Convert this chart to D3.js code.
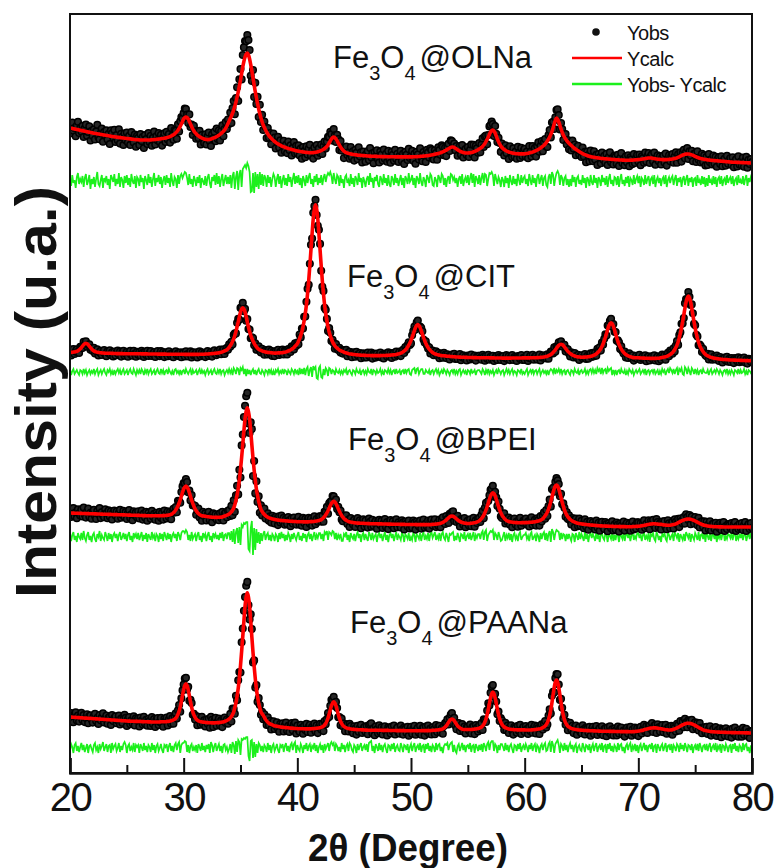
<!DOCTYPE html>
<html>
<head>
<meta charset="utf-8">
<script src="https://cdn.jsdelivr.net/npm/d3@7/dist/d3.min.js"></script>
<style>
  html, body { margin: 0; padding: 0; background: #fff; }
  svg { display: block; }
</style>
</head>
<body>
<div id="chart"></div>
<script>
// XRD patterns with Rietveld refinement: observed points, calculated profile and difference curve.
// Scan: 20–80° 2θ, 0.1° step (601 points). Intensities in a.u. relative to each sample's baseline.
const scanStart = 20;
const scanStep = 0.1;

const sampleNames = ["OLNa", "CIT", "BPEI", "PAANa"];
// vertical stacking offset of each pattern (a.u.)
const offsets = [592, 401, 236, 25];
const xTickValues = [20, 30, 40, 50, 60, 70, 80];
const xMinorValues = [25, 35, 45, 55, 65, 75];
const legendLabels = ["Yobs", "Ycalc", "Yobs- Ycalc"];

// one row = 2° of scan
const calcOLNa = [
  53, 52.8, 52.5, 52.3, 52, 51.8, 51.5, 51.3, 51, 50.8, 50.5, 50.3, 50, 49.8, 49.5, 49.3, 49, 48.8, 48.5, 48.3,
  48, 47.8, 47.6, 47.4, 47.2, 47, 46.8, 46.6, 46.4, 46.2, 46, 45.8, 45.6, 45.4, 45.2, 45, 44.8, 44.6, 44.4, 44.2,
  44, 43.9, 43.7, 43.6, 43.4, 43.3, 43.1, 43, 42.8, 42.7, 42.5, 42.4, 42.2, 42.1, 41.9, 41.8, 41.6, 41.5, 41.3, 41.2,
  41.2, 41.1, 41, 41, 41, 41, 41, 41, 41, 41, 41, 41.1, 41.2, 41.3, 41.4, 41.5, 41.6, 41.8, 41.9, 42,
  42.2, 42.4, 42.6, 42.8, 43, 43.3, 43.6, 44, 44.4, 44.9, 45.5, 46.2, 47, 48.1, 49.3, 50.8, 52.5, 54.7, 57, 59.6,
  62, 63.4, 64, 63.4, 62, 59.6, 57, 54.4, 52, 50.1, 48.5, 47.2, 46, 45.1, 44.3, 43.6, 43, 42.5, 42, 41.7,
  41.5, 41.4, 41.5, 41.7, 42, 42.4, 42.8, 43.3, 43.8, 44.4, 45, 45.8, 46.6, 47.6, 48.6, 49.7, 51, 52.9, 55, 57.4,
  60, 62.4, 65, 67.9, 71, 74.8, 79, 83.8, 89, 94.8, 101, 107.6, 114, 119.6, 124, 126.8, 128, 126, 122, 116.3,
  110, 103, 96, 89.3, 83, 77.3, 72, 67.3, 63, 59.3, 56, 53.4, 51, 48.9, 47, 45.4, 44, 42.7, 41.5, 40.5,
  39.5, 38.6, 37.8, 37.1, 36.4, 35.8, 35.2, 34.7, 34.2, 33.7, 33.3, 32.9, 32.5, 32.1, 31.8, 31.5, 31.2, 30.9, 30.6, 30.3,
  30, 29.8, 29.6, 29.4, 29.2, 29, 28.9, 28.7, 28.6, 28.5, 28.4, 28.3, 28.3, 28.3, 28.4, 28.5, 28.7, 28.9, 29.2, 29.6,
  30, 30.5, 31, 31.7, 32.5, 33.4, 34.5, 36.1, 38, 40.1, 42, 43.4, 44, 43.4, 42, 40.1, 38, 35.9, 34, 32.4,
  31, 29.9, 29, 28.4, 28, 27.6, 27.3, 27, 26.8, 26.6, 26.4, 26.2, 26.1, 25.9, 25.8, 25.7, 25.6, 25.5, 25.4, 25.3,
  25.2, 25.1, 25, 24.9, 24.9, 24.8, 24.8, 24.7, 24.7, 24.6, 24.6, 24.5, 24.5, 24.4, 24.4, 24.4, 24.4, 24.3, 24.3, 24.3,
  24.3, 24.2, 24.2, 24.2, 24.2, 24.2, 24.2, 24.1, 24.1, 24.1, 24.1, 24.1, 24.1, 24.1, 24.1, 24.1, 24.1, 24.1, 24.1, 24.1,
  24.1, 24.1, 24.2, 24.2, 24.3, 24.3, 24.4, 24.5, 24.6, 24.7, 24.8, 24.9, 25, 25.1, 25.3, 25.4, 25.6, 25.8, 26, 26.2,
  26.5, 26.7, 27, 27.3, 27.6, 27.9, 28.3, 28.7, 29.2, 29.7, 30.3, 30.9, 31.6, 32.3, 33, 33.6, 34, 34, 33.5, 32.8,
  32, 31.2, 30.5, 29.9, 29.3, 28.9, 28.5, 28.2, 28, 28, 28, 28.1, 28.3, 28.5, 28.8, 29.2, 29.6, 30.1, 30.6, 31.3,
  32, 32.7, 33.5, 34.6, 36, 37.6, 39.5, 41.7, 44, 46.6, 49, 50.5, 51, 49.9, 48, 45.1, 42, 39.3, 37, 35.1,
  33.5, 32.4, 31.5, 30.7, 30, 29.5, 29, 28.6, 28.3, 28, 27.8, 27.6, 27.4, 27.3, 27.2, 27.1, 27.1, 27.1, 27.1, 27.1,
  27.2, 27.3, 27.5, 27.7, 28, 28.3, 28.6, 29, 29.4, 29.9, 30.4, 31, 31.6, 32.3, 33, 33.9, 34.8, 35.8, 37, 38.4,
  40, 41.9, 44, 46.6, 49.5, 53.2, 57, 60.6, 63, 61.6, 59, 55.6, 52, 48.9, 46, 43.9, 42, 40.4, 39, 37.7,
  36.5, 35.5, 34.5, 33.5, 32.5, 31.7, 31, 30.2, 29.5, 28.7, 28, 27.4, 26.8, 26.3, 25.8, 25.4, 25, 24.7, 24.4, 24.1,
  23.9, 23.7, 23.5, 23.3, 23.1, 23, 22.8, 22.7, 22.5, 22.4, 22.3, 22.2, 22.1, 22, 21.9, 21.8, 21.7, 21.6, 21.5, 21.4,
  21.3, 21.2, 21.2, 21.1, 21, 21, 20.9, 20.9, 20.8, 20.8, 20.8, 20.8, 20.8, 20.8, 20.9, 20.9, 21, 21.1, 21.2, 21.3,
  21.4, 21.5, 21.7, 21.8, 22, 22.2, 22.4, 22.6, 22.8, 23, 23, 23, 22.8, 22.6, 22.4, 22.2, 22, 21.8, 21.7, 21.6,
  21.5, 21.4, 21.4, 21.4, 21.4, 21.4, 21.5, 21.6, 21.7, 21.8, 22, 22.2, 22.5, 22.8, 23.2, 23.7, 24.2, 24.8, 25.4, 25.9,
  26.3, 26.7, 26.9, 27, 27, 26.8, 26.6, 26.2, 25.7, 25.2, 24.6, 24.1, 23.6, 23.2, 22.8, 22.5, 22.2, 21.9, 21.7, 21.5,
  21.3, 21.1, 21, 20.8, 20.7, 20.6, 20.5, 20.4, 20.3, 20.2, 20.1, 20, 19.9, 19.8, 19.7, 19.6, 19.5, 19.4, 19.3, 19.2,
  19.1, 19, 18.9, 18.8, 18.8, 18.7, 18.7, 18.6, 18.6, 18.5, 18.5, 18.4, 18.4, 18.3, 18.3, 18.2, 18.2, 18.1, 18.1, 18,
  18
];
const diffOLNa = [
  3, -5, 6, -2, 1, -7, 4, 8, -3, 2, -1, 5, -6, 3, 7, -4, 0, 6, -8, 2,
  -3, 4, -6, 2, 9, -3, -5, 1, 6, -7, 3, 0, 5, -4, 2, -8, 6, 3, -1, 7,
  -5, 2, -3, 8, -6, 4, 1, -7, 5, -2, 6, -4, 3, -6, 7, 0, -3, 5, -7, 4,
  2, -5, 6, -1, 3, -8, 5, 1, -4, 7, -2, 4, -6, 2, 8, -5, 3, -1, 6, -3,
  4, -7, 1, 5, -4, 6, -2, 3, -6, 8, 0, -5, 4, 2, -7, 6, -3, 5, 7, 3,
  6, 9, 8, 3, -4, 7, -3, 2, -6, 5, 1, -5, 4, -2, 6, -7, 3, 0, -4, 5,
  -5, 3, 7, -2, -7, 4, 0, 6, -4, 8, -3, 5, -6, 2, 7, -5, 1, 6, -3, 4,
  -3, 6, -7, 5, 9, -8, 4, 10, -9, 7, 11, -6, 12, 14, 16, 13, 18, 15, 9, -11,
  -10, 8, -12, 9, -6, 7, -8, 9, -4, 7, -5, 6, 3, -6, 6, -2, 4, -6, 2, 7,
  4, -6, 2, 7, -3, 5, -7, 1, 6, -4, 3, -5, 7, -1, 4, -6, 2, 8, -3, 5,
  -2, 6, -4, 3, -7, 5, 1, -5, 6, -2, 4, 8, -3, 2, -6, 5, -1, 7, -4, 3,
  -2, 6, -4, 3, 7, -1, 5, 8, 6, 9, 5, -3, 8, 2, -3, 6, 4, -5, 6, -2,
  2, -7, 4, 6, -2, 1, -5, 7, -3, 3, -6, 5, 2, -4, 8, -1, 3, -7, 4, 0,
  -6, 2, 5, -4, 8, -1, 3, -7, 4, 0, 6, -3, -6, 5, 2, -4, 7, -2, 3, -5,
  6, -3, -6, 5, 2, -4, 7, -2, 3, -5, 1, 6, -4, 3, -7, 5, 2, -3, 8, -1,
  1, 6, -4, 3, -7, 5, 2, -3, 8, -1, -5, 4, 1, -6, 6, 3, -2, 7, 5, -4,
  -5, 4, 1, -6, 6, 3, -2, 7, 5, -4, 3, -6, 2, 5, -3, 7, 6, 1, 4, -2,
  3, -6, 2, 5, -3, 7, -5, 1, 4, -2, 6, -4, 3, 8, -2, 7, -6, 5, 2, -3,
  6, -4, 3, 8, -2, 7, 6, -5, 2, 8, 7, 9, 6, -5, 7, 2, -3, 4, 1, -6,
  4, 1, -6, 5, -2, 3, -7, 6, 0, -4, 5, -3, 2, -5, 7, 1, -4, 6, -2, 3,
  5, -3, 2, -5, 7, 1, -4, 6, -2, 3, -6, 4, 7, -3, 2, 6, -5, 3, 5, -4,
  -6, 4, 7, -3, 9, 6, -5, 3, 8, 10, 7, -4, 6, 3, -5, 3, 5, -4, 2, -6,
  2, -5, 6, -1, 4, -6, 3, 5, -3, 1, -4, 6, -2, 3, -7, 4, 1, -5, 6, -1,
  -4, 6, -2, 3, -7, 4, 1, -5, 6, -1, 3, -4, 5, -6, 2, 7, -3, 1, -5, 4,
  3, -4, 5, -6, 2, 7, -3, 1, -5, 4, -2, 5, -6, 3, 1, -4, 6, -3, 2, 5,
  -2, 5, -6, 3, 1, -4, 6, -3, 2, 5, -5, 2, 4, -3, 6, -6, 1, 4, -2, 3,
  -5, 2, 4, -3, 6, -6, 1, 4, -2, 3, 5, -4, 2, 6, -5, 3, -1, 4, -6, 2,
  5, -4, 2, 6, -5, 3, -1, 4, -6, 2, 3, -5, 6, -2, 1, -4, 5, -3, 4, -6,
  3, -5, 6, -2, 1, -4, 5, -3, 4, -6, 2, 4, -3, 5, -5, 1, 3, -4, 6, -2,
  2, 4, -3, 5, -5, 1, 3, -4, 6, -2, 1, -3, 5, -4, 2, 6, -5, 3, -1, 4,
  1
];

const calcCIT = [
  19.5, 19.6, 19.7, 19.9, 20.1, 20.4, 20.7, 21.3, 22.1, 23.2, 24.4, 25.9, 27.3, 28.3, 28.8, 28.3, 27.3, 25.8, 24.3, 23,
  21.9, 21.1, 20.5, 20.1, 19.8, 19.6, 19.4, 19.2, 19.1, 19, 18.9, 18.8, 18.8, 18.7, 18.7, 18.7, 18.7, 18.6, 18.6, 18.5,
  18.5, 18.4, 18.4, 18.4, 18.4, 18.4, 18.4, 18.3, 18.3, 18.3, 18.3, 18.3, 18.3, 18.3, 18.3, 18.2, 18.2, 18.2, 18.2, 18.2,
  18.2, 18.2, 18.2, 18.1, 18.1, 18.1, 18.1, 18.1, 18.1, 18, 18, 18, 18, 18, 18, 18, 18, 17.9, 17.9, 17.9,
  17.9, 17.9, 17.9, 17.9, 17.9, 17.8, 17.8, 17.8, 17.8, 17.8, 17.8, 17.7, 17.7, 17.7, 17.7, 17.7, 17.7, 17.7, 17.7, 17.7,
  17.7, 17.6, 17.6, 17.6, 17.6, 17.6, 17.6, 17.6, 17.6, 17.6, 17.6, 17.6, 17.6, 17.6, 17.7, 17.7, 17.7, 17.8, 17.8, 17.9,
  18, 18, 18.1, 18.2, 18.3, 18.4, 18.5, 18.6, 18.7, 18.9, 19, 19.2, 19.4, 19.7, 20.1, 20.6, 21.1, 21.6, 22.2, 23.3,
  24.7, 26.3, 28.2, 30.5, 33.1, 36.6, 40.6, 45.3, 50.1, 55.3, 60.1, 62.8, 64.1, 62.8, 60.1, 55.2, 50, 45, 40.5, 36.8,
  33.7, 30.9, 28.7, 26.8, 25.2, 23.8, 22.7, 22.1, 21.6, 21.1, 20.6, 20.3, 20, 19.8, 19.6, 19.5, 19.4, 19.2, 19.1, 19,
  18.9, 18.9, 19, 19.1, 19.1, 19.2, 19.3, 19.4, 19.6, 19.8, 20.1, 20.5, 21, 21.5, 22, 22.7, 23.5, 24.5, 25.8, 27,
  28.4, 30.7, 33.4, 36.6, 40.4, 45.4, 51.3, 58.5, 67.3, 78.3, 91.3, 106.3, 122.3, 138.5, 153.3, 163, 167.2, 163, 153.2, 138.2,
  122.1, 106.2, 91.1, 78.1, 67.1, 58.3, 51.1, 45, 40, 36.2, 33, 30.3, 28, 26.3, 24.9, 23.8, 22.9, 22.1, 21.4, 20.9,
  20.4, 19.9, 19.4, 19.1, 18.8, 18.4, 18.1, 18, 17.8, 17.6, 17.5, 17.3, 17.2, 17.1, 17, 16.9, 16.8, 16.7, 16.7, 16.6,
  16.6, 16.5, 16.5, 16.5, 16.5, 16.4, 16.4, 16.4, 16.4, 16.4, 16.4, 16.4, 16.4, 16.4, 16.5, 16.5, 16.5, 16.5, 16.6, 16.6,
  16.7, 16.8, 16.9, 17, 17.1, 17.2, 17.3, 17.5, 17.8, 18.1, 18.5, 18.9, 19.4, 20.1, 21, 22, 23.2, 24.9, 26.8, 29.1,
  31.6, 34.7, 38, 41.4, 44.5, 46.6, 47.5, 46.5, 44.4, 41.2, 37.8, 34.5, 31.4, 28.7, 26.4, 24.4, 22.8, 21.6, 20.5, 19.5,
  18.7, 18.2, 17.8, 17.4, 17.1, 16.8, 16.6, 16.4, 16.3, 16.2, 16.1, 15.9, 15.8, 15.7, 15.6, 15.5, 15.4, 15.3, 15.2, 15.1,
  15, 15, 14.9, 14.9, 14.8, 14.8, 14.7, 14.7, 14.6, 14.6, 14.5, 14.5, 14.5, 14.5, 14.4, 14.4, 14.4, 14.4, 14.3, 14.3,
  14.3, 14.3, 14.3, 14.3, 14.2, 14.2, 14.2, 14.2, 14.2, 14.2, 14.1, 14.1, 14.1, 14.1, 14, 14, 14, 14, 14, 14,
  13.9, 13.9, 13.9, 13.9, 13.9, 13.9, 13.9, 13.9, 13.9, 14, 14, 14, 14, 14, 14, 14, 14, 14, 14.1, 14.1,
  14.1, 14.1, 14.1, 14.1, 14.1, 14.2, 14.2, 14.2, 14.2, 14.3, 14.3, 14.4, 14.4, 14.5, 14.6, 14.7, 14.8, 15, 15.2, 15.5,
  15.8, 16.3, 16.8, 17.5, 18.4, 19.5, 20.8, 22.2, 23.7, 25.3, 26.6, 27.5, 27.8, 27.4, 26.5, 25.1, 23.5, 22, 20.6, 19.5,
  18.6, 17.7, 17, 16.5, 16, 15.6, 15.3, 15.1, 15, 14.9, 14.8, 14.8, 14.9, 14.9, 15, 15.1, 15.2, 15.4, 15.7, 16,
  16.3, 16.8, 17.4, 18.2, 19.2, 20.3, 21.7, 23.4, 25.5, 28.2, 31.3, 34.8, 38.5, 42.5, 46, 48.3, 49.2, 48.2, 45.9, 42.2,
  38, 34.2, 30.7, 27.6, 24.9, 22.8, 21, 19.6, 18.5, 17.5, 16.7, 16.1, 15.6, 15.2, 14.9, 14.6, 14.4, 14.3, 14.3, 14.2,
  14.2, 14.1, 14, 14, 13.9, 13.9, 13.8, 13.8, 13.7, 13.7, 13.6, 13.6, 13.6, 13.6, 13.6, 13.6, 13.7, 13.7, 13.8, 14,
  14.3, 14.5, 14.7, 15, 15.3, 15.7, 16.2, 16.8, 17.5, 18.3, 19.3, 20.7, 22.5, 24.5, 26.9, 30.1, 34, 38.8, 44.2, 50.4,
  57, 63.8, 70, 74.2, 76, 74.2, 70, 63.6, 56.8, 50.1, 43.8, 38.3, 33.6, 29.7, 26.5, 24, 22, 20.3, 18.8, 17.7,
  16.8, 16.1, 15.5, 15, 14.6, 14.3, 14, 13.8, 13.6, 13.4, 13.2, 13, 12.9, 12.7, 12.6, 12.5, 12.5, 12.4, 12.3, 12.2,
  12.1, 12, 12, 12, 11.9, 11.9, 11.8, 11.8, 11.7, 11.7, 11.6, 11.6, 11.5, 11.5, 11.4, 11.4, 11.4, 11.3, 11.3, 11.2,
  11.2
];
const diffCIT = [
  2, -3, 1, 3, -2, 0, 2, -1, -3, 2, 1, -2, 3, -1, 2, -3, 0, 2, -2, 1,
  -1, 3, -2, 1, 3, -3, 0, 2, -2, 1, 3, -1, -3, 2, 0, 3, -2, 1, -3, 2,
  -2, 1, 3, -1, 2, -3, 1, 3, -2, 0, 2, -3, 1, 3, -1, -2, 3, 0, -3, 2,
  -1, 2, -2, 3, 1, -3, 2, -1, 3, -2, 1, 3, -2, 0, 2, -3, 1, 3, -1, -2,
  3, -1, 2, -3, 1, 2, -2, 3, 0, -2, 1, -3, 2, 3, -1, 1, -2, 2, -3, 1,
  2, -2, 3, 0, -2, 1, 3, -3, 2, -1, 0, 2, -3, 1, 3, -2, 2, -1, 1, -3,
  1, 3, -2, 0, 2, -3, 1, 3, -1, -2, 2, -1, 3, -2, 1, 2, -3, 0, 2, -1,
  3, -1, 2, -3, 4, 2, -2, 4, 3, -3, 4, 2, 5, -2, 3, -4, 3, -2, 2, -3,
  1, 3, -2, 2, -3, 1, 3, -1, -2, 2, 0, -3, 2, 1, -2, 3, -1, 2, -3, 1,
  -3, 2, 0, 3, -2, 1, -1, 3, -2, 2, 1, -3, 2, 0, -2, 3, 1, -2, 3, -1,
  1, -3, 4, -2, 3, -2, 4, -3, 3, 5, -4, 2, 5, -5, 6, 3, 5, -6, -7, 4,
  6, -5, -6, 3, -3, 4, 2, -4, 4, 3, -2, 2, 1, -3, 3, 0, -1, 2, -2, 1,
  -2, 2, 0, 3, -3, 1, 2, -1, -3, 2, 1, -2, 3, 0, -1, 2, -3, 1, 2, -2,
  1, -2, 3, 0, -1, 3, -3, 2, 1, -2, 2, -1, 0, 3, -2, 1, -3, 2, 1, -1,
  3, -1, 2, -3, 1, 2, -2, 3, -1, 0, 2, -3, 1, 2, -2, 3, -1, 2, 3, -2,
  -3, 2, 3, 4, -2, 3, 4, -2, 1, 3, 3, -2, -2, 2, 0, -1, 2, -3, 1, 2,
  -2, 1, 3, -1, 2, -3, 0, 2, -2, 3, 1, -2, 2, 0, -3, 1, 2, -1, 3, -2,
  1, -2, 2, 3, -3, 0, 2, -1, 1, -3, 2, 1, -2, 3, -1, 0, 2, -3, 1, 2,
  2, 0, -2, 3, 1, -3, 2, -1, 3, -2, 1, -1, 2, -3, 0, 2, -2, 3, 1, -2,
  1, 2, -3, 0, 3, -1, 2, -2, 1, 3, -2, 1, 0, -3, 2, 1, -1, 3, -2, 0,
  -2, 1, 3, -3, 0, 2, -1, 3, -2, 1, 2, -2, 1, 3, -3, 0, 2, -1, 1, -2,
  2, -3, 1, 3, 2, -1, 4, -2, 2, 0, 3, -1, 3, -2, 1, 2, -3, 1, 2, -1,
  -3, 2, 1, -2, 3, 0, -1, 2, -3, 1, 2, -1, 0, 3, -2, 1, -2, 2, 3, -1,
  3, -1, 2, -2, 4, 1, 3, -2, 4, -1, 2, 3, -2, 4, 1, 3, 4, -3, 2, -2,
  2, -3, 1, 2, -2, 3, 0, -1, 2, -3, 1, -2, 3, 1, -1, 2, -3, 0, 2, -1,
  1, 3, -2, 0, 2, -1, 3, -3, 1, 2, -2, 1, 2, -1, 3, -2, 0, 2, -3, 1,
  -2, 3, 0, 2, -3, 1, 3, -1, 4, 2, -1, 3, -2, 2, 4, -3, 3, 1, 4, -2,
  -3, 5, 3, -2, 4, 1, -3, 4, 2, -2, 3, -1, 2, -3, 1, 2, -2, 3, 0, -1,
  -1, 2, -3, 1, 3, -2, 0, 2, -1, 3, 1, -2, 2, 0, -3, 1, 2, -1, 3, -2,
  1, -2, 2, 0, -3, 2, 1, -1, 3, -2, 2, -1, 0, 3, -2, 1, -3, 2, 1, -1,
  1
];

const calcBPEI = [
  24, 24, 23.9, 23.9, 23.8, 23.8, 23.8, 23.7, 23.7, 23.6, 23.6, 23.5, 23.5, 23.5, 23.4, 23.4, 23.4, 23.3, 23.3, 23.2,
  23.2, 23.2, 23.1, 23.1, 23, 23, 23, 22.9, 22.9, 22.8, 22.8, 22.7, 22.7, 22.7, 22.6, 22.6, 22.6, 22.5, 22.5, 22.4,
  22.4, 22.4, 22.3, 22.3, 22.2, 22.2, 22.2, 22.1, 22.1, 22, 22, 21.9, 21.9, 21.9, 21.8, 21.8, 21.8, 21.7, 21.7, 21.6,
  21.6, 21.6, 21.5, 21.5, 21.4, 21.4, 21.4, 21.3, 21.3, 21.3, 21.2, 21.2, 21.2, 21.2, 21.2, 21.2, 21.2, 21.2, 21.2, 21.2,
  21.3, 21.3, 21.4, 21.4, 21.5, 21.6, 21.8, 22, 22.3, 22.7, 23.3, 24.2, 25.4, 26.9, 28.8, 31.2, 34, 37.3, 40.9, 44.6,
  48, 50, 50.9, 50, 47.8, 44.4, 40.5, 36.9, 33.6, 30.7, 28.2, 26.3, 24.7, 23.4, 22.4, 21.8, 21.3, 21.1, 21, 20.7,
  20.5, 20.3, 20.2, 20, 19.9, 19.8, 19.7, 19.7, 19.6, 19.6, 19.7, 19.7, 19.8, 19.9, 20.1, 20.5, 21, 21.4, 21.8, 22.3,
  23, 24, 25.2, 26.8, 28.8, 32.3, 36.7, 42.2, 48.6, 57.3, 67.5, 79.6, 92.4, 106, 118.3, 125.8, 129.2, 125.5, 118.1, 105.8,
  92, 78.9, 66.9, 56.6, 47.8, 41.1, 35.7, 31.3, 27.6, 25.5, 23.8, 22.5, 21.4, 20.5, 19.7, 19.2, 18.7, 18.4, 18.1, 17.8,
  17.5, 17.3, 17.1, 16.9, 16.8, 16.6, 16.5, 16.4, 16.3, 16.2, 16.1, 16, 15.9, 15.8, 15.8, 15.7, 15.6, 15.5, 15.5, 15.4,
  15.3, 15.3, 15.2, 15.2, 15.2, 15.2, 15.1, 15.1, 15.1, 15.1, 15.2, 15.3, 15.4, 15.4, 15.5, 15.6, 15.8, 16, 16.2, 16.5,
  16.8, 17.4, 18.2, 19.2, 20.5, 22.2, 24.1, 26.3, 28.7, 31.3, 33.6, 35, 35.6, 35, 33.4, 31, 28.3, 25.8, 23.5, 21.5,
  19.8, 18.5, 17.5, 16.7, 16, 15.5, 15.1, 14.9, 14.7, 14.4, 14.2, 14.1, 14, 13.9, 13.9, 13.8, 13.8, 13.7, 13.7, 13.6,
  13.5, 13.5, 13.4, 13.4, 13.3, 13.3, 13.3, 13.2, 13.2, 13.2, 13.2, 13.1, 13.1, 13.1, 13.1, 13, 13, 13, 13, 12.9,
  12.9, 12.9, 12.9, 12.8, 12.8, 12.8, 12.8, 12.7, 12.7, 12.7, 12.7, 12.6, 12.6, 12.6, 12.6, 12.5, 12.5, 12.5, 12.5, 12.5,
  12.5, 12.5, 12.5, 12.5, 12.4, 12.4, 12.4, 12.4, 12.4, 12.4, 12.4, 12.4, 12.4, 12.4, 12.4, 12.4, 12.4, 12.4, 12.5, 12.6,
  12.7, 12.8, 12.9, 13, 13.2, 13.4, 13.7, 14.1, 14.7, 15.3, 16.1, 17, 18, 19.1, 20.1, 20.7, 20.9, 20.7, 20.1, 19.2,
  18.1, 17.1, 16.3, 15.6, 15, 14.6, 14.2, 13.9, 13.7, 13.6, 13.5, 13.5, 13.6, 13.7, 13.9, 14.1, 14.3, 14.6, 15, 15.5,
  16.1, 17.1, 18.3, 19.9, 21.8, 24.3, 27.1, 30.4, 33.9, 37.7, 41.1, 43.3, 44.2, 43.3, 41.2, 37.8, 34, 30.4, 27.2, 24.4,
  22, 20.2, 18.7, 17.5, 16.6, 16, 15.5, 15.2, 15, 14.8, 14.6, 14.5, 14.4, 14.4, 14.3, 14.3, 14.3, 14.3, 14.4, 14.4,
  14.4, 14.4, 14.4, 14.5, 14.6, 14.7, 14.8, 14.9, 15, 15.2, 15.4, 15.7, 16, 16.4, 16.9, 17.6, 18.4, 19.7, 21.3, 23,
  25, 28, 31.4, 35.4, 39.7, 44.3, 48.3, 51.1, 52, 50.8, 47.9, 43.7, 39.2, 34.8, 30.7, 27.2, 24.2, 21.9, 20.1, 18.7,
  17.5, 16.6, 15.9, 15.3, 14.8, 14.4, 14, 13.7, 13.5, 13.3, 13.1, 12.9, 12.8, 12.6, 12.5, 12.3, 12.2, 12.1, 12, 11.9,
  11.8, 11.7, 11.6, 11.5, 11.4, 11.3, 11.2, 11.1, 11.1, 11, 11, 10.9, 10.9, 10.8, 10.8, 10.7, 10.7, 10.6, 10.6, 10.5,
  10.5, 10.5, 10.5, 10.4, 10.4, 10.4, 10.4, 10.4, 10.4, 10.3, 10.3, 10.3, 10.3, 10.3, 10.3, 10.4, 10.5, 10.5, 10.6, 10.6,
  10.7, 10.8, 11, 11.2, 11.4, 11.6, 11.9, 12.1, 12.4, 12.6, 12.8, 13, 13.1, 13.2, 13.2, 13.1, 13, 12.9, 12.7, 12.6,
  12.6, 12.4, 12.2, 12, 11.9, 11.8, 11.7, 11.7, 11.8, 12, 12.2, 12.5, 12.8, 13.2, 13.7, 14.3, 14.9, 15.5, 16.1, 16.6,
  17, 17.4, 17.7, 17.9, 18, 17.9, 17.7, 17.4, 17, 16.5, 16, 15.4, 14.8, 14.2, 13.6, 13.1, 12.6, 12.2, 11.8, 11.5,
  11.2, 11, 10.8, 10.7, 10.6, 10.5, 10.4, 10.3, 10.3, 10.2, 10.2, 10.1, 10.1, 10.1, 10.1, 10, 10, 10, 10, 10,
  10, 10, 10, 10, 10, 10, 10, 10, 10, 10, 10, 10, 10, 10, 10, 10, 10, 10, 10, 10,
  10
];
const diffBPEI = [
  3, -4, 2, 5, -3, 1, -5, 4, 0, -2, 4, -3, 6, -1, -4, 2, 5, -3, 1, -5,
  2, 4, -2, -5, 3, 0, 6, -4, 2, -1, -3, 5, 1, -4, 4, -2, 3, -5, 2, 4,
  -1, 3, -4, 2, 5, -3, 0, 4, -2, 3, -4, 2, 5, -3, 1, -5, 4, 0, 3, -2,
  4, -3, 1, 5, -4, 2, -2, 4, -5, 3, 0, -3, 5, -1, 2, -4, 3, 1, -5, 4,
  -2, 3, -4, 5, 1, -3, 4, -2, 3, -5, 2, 4, -1, 3, -4, 5, 2, -3, 4, 6,
  6, 4, 7, 5, -3, 2, -4, 5, -2, 1, 3, -4, 2, 5, -3, 1, -5, 4, 0, 3,
  -4, 2, 5, -3, 1, -5, 4, 0, 3, -2, 2, -3, 4, -1, 5, -4, 2, 3, -2, 4,
  4, -3, 6, -5, 8, -7, 5, 9, -6, 10, -8, 12, 10, 14, 13, 15, 15, -12, -14, 9,
  16, -18, 9, -13, 8, -6, 5, -7, 4, -4, 3, 6, -3, 2, 4, -3, 2, -4, 3, 1,
  -4, 3, 1, -5, 4, -2, 5, -1, 3, -4, 2, -3, 4, 1, -5, 3, -2, 4, 0, -3,
  2, 5, -3, 1, -4, 4, -1, 3, -5, 2, 4, -2, 3, -4, 1, 5, -3, 2, -1, 4,
  4, -2, 3, -4, 5, 3, 6, -3, 5, 4, 2, 6, 5, -2, 4, -3, 2, -1, 3, -4,
  -4, 3, 1, 5, -3, 2, -5, 4, 0, -2, 3, -4, 2, 5, -1, 3, -5, 2, 4, -3,
  3, -1, -4, 5, 2, -3, 4, -2, 1, 3, -5, 2, 4, -1, 3, -4, 1, 5, -3, 2,
  -5, 2, 4, -1, 3, -4, 1, 5, -3, 2, 0, -3, 4, 2, -5, 3, 1, -2, 4, -4,
  0, -3, 4, 2, -5, 3, 1, -2, 4, -4, 2, 5, -3, 1, -2, 4, -4, 3, 5, -1,
  2, 5, -3, 1, -2, 4, -4, 3, 5, -1, -3, 4, 0, -5, 3, 2, 4, 5, -4, 1,
  -3, 4, 0, -5, 3, 2, -2, 5, -4, 1, 3, -2, 4, -3, 1, 5, -4, 2, -1, 3,
  3, -2, 4, 6, -3, 5, 7, -4, 2, 4, 6, 5, 7, -3, 4, 2, -3, 5, 1, -4,
  -3, 1, 5, -4, 2, -1, 4, -3, 3, -5, 2, 4, -2, 1, -4, 3, 5, -3, 0, 2,
  2, 4, -2, 1, -4, 3, 5, -3, 0, 2, -4, 3, 1, -5, 4, -2, 3, 5, -3, 4,
  -4, 3, 6, -5, 8, 5, -3, 4, 7, 6, 5, -3, 4, -2, 3, 2, -4, 3, -2, 3,
  -1, -4, 3, 2, -5, 4, 1, -3, 5, -2, 3, 0, -4, 5, -2, 3, -5, 2, 4, -1,
  3, 0, -4, 5, -2, 3, -5, 2, 4, -1, -3, 4, 2, -5, 3, 1, -2, 5, -4, 2,
  -3, 4, 2, -5, 3, 1, -2, 5, -4, 2, 4, -1, 3, -4, 2, 5, -3, 1, -2, 4,
  4, -1, 3, -4, 2, 5, -3, 1, -2, 4, -5, 3, 1, 4, -2, -4, 5, 2, -3, 1,
  -5, 3, 1, 4, -2, -4, 5, 2, -3, 1, 3, -4, 5, 2, -1, 4, -5, 3, 0, -3,
  3, -4, 5, 2, -1, 4, -5, 3, 0, -3, 4, 1, -3, 5, -4, 2, 3, -2, 4, -5,
  4, 1, -3, 5, -4, 2, 3, -2, 4, -5, 2, -1, 4, -3, 3, 5, -4, 1, -2, 3,
  2, -1, 4, -3, 3, 5, -4, 1, -2, 3, -1, 4, -3, 2, 5, -4, 1, 3, -2, 4,
  -1
];

const calcPAANa = [
  31, 30.9, 30.8, 30.7, 30.7, 30.6, 30.5, 30.4, 30.4, 30.3, 30.2, 30.1, 30, 29.9, 29.9, 29.8, 29.7, 29.6, 29.6, 29.5,
  29.4, 29.3, 29.2, 29.1, 29.1, 29, 28.9, 28.8, 28.8, 28.7, 28.6, 28.5, 28.4, 28.3, 28.3, 28.2, 28.1, 28, 28, 27.9,
  27.8, 27.7, 27.6, 27.5, 27.5, 27.4, 27.3, 27.2, 27.2, 27.1, 27, 26.9, 26.9, 26.8, 26.8, 26.7, 26.7, 26.6, 26.6, 26.6,
  26.6, 26.5, 26.5, 26.4, 26.4, 26.3, 26.3, 26.2, 26.2, 26.1, 26.1, 26.1, 26, 26, 26, 26, 26, 26, 26, 26.1,
  26.2, 26.2, 26.3, 26.3, 26.3, 26.4, 26.5, 26.7, 26.9, 27.2, 27.7, 28.2, 28.8, 29.8, 31.4, 33.7, 36.9, 41.2, 46.6, 52.6,
  58.4, 62.5, 64.2, 62.4, 58.2, 52.3, 46.2, 40.9, 36.3, 33.1, 30.6, 29, 27.8, 27.1, 26.6, 26.3, 26.1, 25.9, 25.8, 25.6,
  25.5, 25.4, 25.3, 25.2, 25.2, 25.1, 25.1, 25.1, 25.2, 25.3, 25.4, 25.4, 25.5, 25.7, 25.9, 26.2, 26.5, 27, 27.5, 28.2,
  29, 30.1, 31.5, 33.5, 36.1, 40.2, 45.3, 51.8, 59.8, 70, 82.4, 96.7, 111.5, 127.2, 141.9, 151.3, 155.1, 151, 141.6, 126.8,
  110.9, 95.6, 81.6, 69.4, 59, 51.2, 44.9, 40, 36.2, 34.2, 32.7, 30.7, 28.6, 27, 25.7, 24.8, 24.1, 23.6, 23.1, 22.6,
  22.1, 22, 21.8, 21.6, 21.3, 21.1, 20.9, 20.8, 20.6, 20.5, 20.4, 20.3, 20.2, 20, 19.9, 19.9, 19.8, 19.6, 19.5, 19.5,
  19.4, 19.3, 19.3, 19.2, 19.2, 19.2, 19.2, 19.1, 19.1, 19.1, 19.1, 19.1, 19.2, 19.3, 19.4, 19.5, 19.6, 19.7, 19.9, 20.1,
  20.3, 20.6, 21.1, 21.9, 23, 24.7, 26.9, 30, 33.9, 38.2, 42.2, 45, 46.3, 45, 42.1, 38, 33.7, 29.9, 26.7, 24.4,
  22.7, 21.5, 20.7, 20.2, 19.8, 19.5, 19.2, 19, 18.8, 18.7, 18.6, 18.5, 18.4, 18.3, 18.3, 18.2, 18.2, 18.1, 18.1, 18,
  17.9, 17.9, 17.8, 17.8, 17.8, 17.8, 17.8, 17.7, 17.7, 17.7, 17.7, 17.7, 17.7, 17.7, 17.7, 17.6, 17.6, 17.6, 17.6, 17.6,
  17.6, 17.5, 17.5, 17.5, 17.5, 17.5, 17.5, 17.4, 17.4, 17.4, 17.4, 17.4, 17.4, 17.4, 17.4, 17.3, 17.3, 17.3, 17.3, 17.3,
  17.3, 17.3, 17.3, 17.3, 17.3, 17.3, 17.3, 17.3, 17.3, 17.3, 17.4, 17.4, 17.4, 17.4, 17.4, 17.4, 17.4, 17.4, 17.5, 17.6,
  17.8, 17.8, 17.9, 18, 18.1, 18.2, 18.4, 18.7, 19.2, 19.9, 20.9, 22.2, 23.8, 25.6, 27.3, 28.5, 29, 28.5, 27.3, 25.6,
  23.8, 22.2, 21, 20.1, 19.4, 18.9, 18.6, 18.5, 18.5, 18.5, 18.5, 18.5, 18.5, 18.5, 18.6, 18.7, 18.9, 19, 19.2, 19.5,
  19.8, 20.3, 21, 22.1, 23.7, 26, 29.1, 33.4, 38.7, 44.6, 50.2, 54.4, 56, 54.4, 50.2, 44.5, 38.7, 33.4, 29.1, 26,
  23.7, 22.2, 21, 20.3, 19.8, 19.4, 19, 18.8, 18.7, 18.5, 18.4, 18.3, 18.2, 18.2, 18.1, 18.1, 18.1, 18.1, 18.2, 18.1,
  18.1, 18, 18, 18, 18, 18, 18.1, 18.2, 18.3, 18.4, 18.5, 18.7, 18.9, 19.1, 19.4, 19.8, 20.4, 21.1, 22, 23.5,
  25.5, 28.4, 32.6, 38.4, 45.3, 53.3, 60.5, 65.9, 68, 65.8, 60.4, 53.1, 45.2, 38.2, 32.5, 28.3, 25.3, 23.3, 21.8, 20.9,
  20.2, 19.6, 19.2, 18.9, 18.7, 18.5, 18.3, 18.1, 18, 17.9, 17.8, 17.7, 17.6, 17.5, 17.5, 17.4, 17.4, 17.3, 17.3, 17.2,
  17.2, 17.1, 17.1, 17, 17, 16.9, 16.9, 16.8, 16.8, 16.8, 16.8, 16.7, 16.7, 16.7, 16.7, 16.6, 16.6, 16.6, 16.6, 16.5,
  16.5, 16.5, 16.5, 16.5, 16.4, 16.4, 16.4, 16.4, 16.4, 16.4, 16.4, 16.4, 16.3, 16.3, 16.3, 16.4, 16.4, 16.5, 16.6, 16.7,
  16.9, 17.1, 17.3, 17.5, 17.8, 18.2, 18.5, 18.8, 19.1, 19.4, 19.7, 19.9, 20, 20.1, 20.1, 20.1, 20, 19.8, 19.6, 19.4,
  19.2, 19, 18.8, 18.5, 18.3, 18.2, 18.1, 18, 18, 18.1, 18.3, 18.7, 19.1, 19.6, 20.1, 20.7, 21.3, 22, 22.7, 23.2,
  23.7, 24.1, 24.5, 24.7, 24.8, 24.7, 24.5, 24.1, 23.7, 23.2, 22.6, 21.9, 21.2, 20.5, 19.9, 19.3, 18.7, 18.2, 17.8, 17.5,
  17.2, 17, 16.8, 16.6, 16.4, 16.3, 16.2, 16.1, 16, 16, 15.9, 15.9, 15.8, 15.8, 15.7, 15.7, 15.6, 15.6, 15.5, 15.5,
  15.5, 15.5, 15.4, 15.4, 15.4, 15.4, 15.3, 15.3, 15.3, 15.3, 15.2, 15.2, 15.2, 15.2, 15.1, 15.1, 15.1, 15.1, 15, 15,
  15
];
const diffPAANa = [
  -2, 4, 1, -5, 3, 5, -3, 2, -4, 1, 5, -2, 3, -4, 0, 4, -5, 2, 3, -1,
  -4, 3, 5, -2, 1, -5, 4, -1, 2, 6, -3, 1, 4, -4, 2, 3, -5, 5, -1, 2,
  4, -3, 0, 5, -4, 2, -2, 4, 6, 3, -5, 2, 4, -3, 1, -2, 5, -4, 3, 1,
  3, -5, 4, 1, -3, 5, -2, 2, -4, 3, 1, -4, 5, -2, 3, -5, 2, 4, -3, 0,
  4, -2, -5, 3, 1, 4, -4, 2, 5, -3, 2, -4, 3, 5, -2, 4, 6, -5, 3, 5,
  5, 7, 6, -4, 3, -5, 2, 4, -3, 1, -2, 3, -5, 4, 1, -3, 5, -2, 2, -4,
  3, -1, 4, -5, 6, 3, -4, 2, 5, -3, 1, 4, -3, 2, -5, 3, 4, -2, 1, -4,
  -1, 4, -5, 6, 3, -6, 7, -4, 8, 6, -7, 9, 8, 10, 9, 11, 11, -8, -13, 7,
  8, -10, 6, -9, 4, -5, 5, 3, -3, 2, -4, 3, 1, -4, 5, -2, 3, -5, 2, 4,
  -3, 0, 4, -2, -5, 3, 1, 4, -4, 2, 5, -3, 2, -4, 3, 5, -2, 4, 6, -5,
  3, -1, -3, 4, 1, -5, 3, -1, 5, -3, 2, 4, -4, 2, 0, 5, -3, 3, -5, 1,
  4, -2, 3, -5, 4, -1, 2, 5, -3, 4, 6, 3, 5, -3, 4, 2, -3, 1, -4, 5,
  -1, 3, -4, 2, 4, -3, 5, 3, -2, -4, 3, 1, -5, 4, -2, 2, 5, -3, 1, 3,
  -2, 4, -4, 5, 6, 7, -3, 2, -5, 4, 1, -3, 5, -2, 3, -4, 2, 4, -1, -5,
  3, 2, -3, 4, -1, 5, -4, 1, 3, -2, -3, 5, 1, -4, 3, 2, -2, 4, -5, 1,
  4, -3, 2, 5, -4, 1, 3, -2, 5, -4, 2, 3, -5, 4, -1, 5, -3, 2, -4, 3,
  1, -4, 5, -2, 3, 4, -3, 1, -5, 2, 4, 3, 5, -2, 3, 5, 6, -4, 3, -3,
  -5, 2, 4, -3, 1, 5, -2, 3, -4, 2, 3, -1, 5, -4, 2, 3, -5, 4, 1, -3,
  3, -2, 4, -4, 5, 2, -3, 4, 6, -2, 5, 7, 7, -3, 4, 2, -5, 3, -2, 4,
  4, 1, -3, 5, -2, 3, -4, 2, 4, -1, -5, 3, 2, -3, 4, -1, 5, -4, 1, 3,
  -2, 4, 1, -4, 3, -1, 5, -3, 2, 4, -4, 3, 1, -5, 2, 4, -2, 3, 5, -3,
  -2, 4, 6, -4, 7, 3, -5, 4, 6, 8, 3, -5, 4, 2, -3, 5, -2, 3, -4, 2,
  5, -1, 3, -4, 2, 4, -5, 1, 3, -2, -3, 5, 1, -4, 3, 2, -2, 4, -5, 1,
  4, -3, 2, 5, -4, 1, 3, -2, 5, -4, 2, 3, -5, 4, -1, 5, -3, 2, -4, 3,
  1, -4, 5, -2, 3, 4, -3, 1, -5, 2, 4, -2, 3, 5, -4, 2, -1, 4, -3, 3,
  -5, 2, 4, -3, 1, 5, -2, 3, -4, 2, 3, -1, 5, -4, 2, 3, -5, 4, 1, -3,
  2, 4, -3, 1, 5, -4, 2, 3, -2, 4, -5, 3, 1, -3, 4, 2, -4, 5, -1, 3,
  -3, 5, 1, -4, 3, 2, -2, 4, -5, 1, 3, -2, 4, -3, 5, 1, -4, 2, 3, -2,
  4, -3, 2, 5, -4, 1, 3, -2, 5, -4, 2, -1, 4, -5, 3, 2, -3, 4, 1, -4,
  2, 3, -5, 4, -1, 5, -3, 2, -4, 3, 1, -4, 5, -2, 3, 4, -3, 1, -5, 2,
  2
];

const calcSeries = [calcOLNa, calcCIT, calcBPEI, calcPAANa];
const diffSeries = [diffOLNa, diffCIT, diffBPEI, diffPAANa];

// ---- layout ----
const W = 778, H = 868;
const plot = { left: 70, right: 752, top: 14, bottom: 773 };
const colors = { obs: "#000", calc: "#ff0000", diff: "#1cf01c" };

const svg = d3.select("#chart").append("svg")
  .attr("width", W).attr("height", H)
  .attr("viewBox", `0 0 ${W} ${H}`);
svg.append("rect").attr("width", W).attr("height", H).attr("fill", "#fff");

const x = d3.scaleLinear().domain([20, 80]).range([plot.left, plot.right]);
const y = d3.scaleLinear().domain([0, 759]).range([plot.bottom, plot.top]);

svg.append("clipPath").attr("id", "plot-clip")
  .append("rect")
  .attr("x", plot.left).attr("y", plot.top)
  .attr("width", plot.right - plot.left).attr("height", plot.bottom - plot.top);

const layer = svg.append("g").attr("clip-path", "url(#plot-clip)");

const lineCalc = d3.line()
  .x(d => x(d.t)).y(d => y(d.v))
  .curve(d3.curveMonotoneX);
const lineDiff = d3.line()
  .x(d => x(d.t)).y(d => y(d.v));

sampleNames.forEach((name, k) => {
  const calc = calcSeries[k];
  const diff = diffSeries[k];
  const base = offsets[k];
  const n = Math.min(calc.length, diff.length);
  const pts = d3.range(n).map(i => ({
    t: scanStart + i * scanStep,
    calc: calc[i],
    diff: diff[i],
    obs: calc[i] + diff[i]          // Yobs = Ycalc + (Yobs - Ycalc)
  }));

  const g = layer.append("g").attr("class", "pattern-" + name);

  // difference curve, drawn on the sample's own baseline
  g.append("path")
    .datum(pts.map(p => ({ t: p.t, v: base + p.diff })))
    .attr("fill", "none")
    .attr("stroke", colors.diff)
    .attr("stroke-width", 1.7)
    .attr("d", lineDiff);

  // observed points
  g.append("g").selectAll("circle")
    .data(pts)
    .join("circle")
    .attr("cx", d => x(d.t))
    .attr("cy", d => y(base + d.obs))
    .attr("r", 3.3)
    .attr("fill", "#262626")
    .attr("stroke", colors.obs)
    .attr("stroke-width", 1.5);

  // calculated profile
  g.append("path")
    .datum(pts.map(p => ({ t: p.t, v: base + p.calc })))
    .attr("fill", "none")
    .attr("stroke", colors.calc)
    .attr("stroke-width", 3.6)
    .attr("stroke-linejoin", "round")
    .attr("d", lineCalc);
});

// ---- frame and axes ----
svg.append("rect")
  .attr("x", plot.left).attr("y", plot.top)
  .attr("width", plot.right - plot.left).attr("height", plot.bottom - plot.top)
  .attr("fill", "none").attr("stroke", "#111").attr("stroke-width", 2);

const axisMajor = d3.axisBottom(x)
  .tickValues(xTickValues)
  .tickFormat(d3.format("d"))
  .tickSize(-15)
  .tickPadding(10);
const gx = svg.append("g")
  .attr("transform", `translate(0,${plot.bottom})`)
  .call(axisMajor);
gx.select(".domain").attr("stroke", "#111").attr("stroke-width", 2.5);
gx.selectAll(".tick line").attr("stroke", "#111").attr("stroke-width", 2);
gx.selectAll(".tick text")
  .attr("fill", "#111")
  .attr("font-family", "'Liberation Sans', Arial, sans-serif")
  .attr("font-size", 40)
  .attr("letter-spacing", -1.5);

const axisMinor = d3.axisBottom(x)
  .tickValues(xMinorValues)
  .tickFormat("")
  .tickSize(-8);
const gxm = svg.append("g")
  .attr("transform", `translate(0,${plot.bottom})`)
  .call(axisMinor);
gxm.select(".domain").remove();
gxm.selectAll(".tick line").attr("stroke", "#111").attr("stroke-width", 2);

// axis titles
svg.append("text")
  .attr("x", 408).attr("y", 861)
  .attr("text-anchor", "middle")
  .attr("font-family", "'Liberation Sans', Arial, sans-serif")
  .attr("font-weight", "bold")
  .attr("font-size", 38)
  .attr("textLength", 200)
  .attr("lengthAdjust", "spacingAndGlyphs")
  .attr("fill", "#111")
  .text("2θ (Degree)");

svg.append("text")
  .attr("transform", "translate(56,392) rotate(-90)")
  .attr("text-anchor", "middle")
  .attr("font-family", "'Liberation Sans', Arial, sans-serif")
  .attr("font-weight", "bold")
  .attr("font-size", 58)
  .attr("textLength", 412)
  .attr("lengthAdjust", "spacingAndGlyphs")
  .attr("fill", "#111")
  .text("Intensity (u.a.)");

// ---- sample labels: Fe3O4@... with subscripts ----
const labelPos = [
  { x: 333, y: 68 },
  { x: 347, y: 287 },
  { x: 348, y: 450 },
  { x: 350, y: 633 }
];
sampleNames.forEach((name, k) => {
  const t = svg.append("text")
    .attr("x", labelPos[k].x).attr("y", labelPos[k].y)
    .attr("font-family", "'Liberation Sans', Arial, sans-serif")
    .attr("font-size", 31)
    .attr("fill", "#111");
  t.append("tspan").text("Fe");
  t.append("tspan").attr("font-size", 20).attr("dy", 12).text("3");
  t.append("tspan").attr("dy", -12).text("O");
  t.append("tspan").attr("font-size", 20).attr("dy", 12).text("4");
  t.append("tspan").attr("dy", -12).attr("dx", 4).text("@" + name);
});

// ---- legend ----
const legend = svg.append("g")
  .attr("font-family", "'Liberation Sans', Arial, sans-serif")
  .attr("font-size", 20)
  .attr("fill", "#111");
legend.append("circle").attr("cx", 596).attr("cy", 32).attr("r", 3.8).attr("fill", "#111");
legend.append("line").attr("x1", 572).attr("x2", 622).attr("y1", 58).attr("y2", 58)
  .attr("stroke", colors.calc).attr("stroke-width", 2.5);
legend.append("line").attr("x1", 572).attr("x2", 622).attr("y1", 84).attr("y2", 84)
  .attr("stroke", colors.diff).attr("stroke-width", 2.5);
[40, 66, 92].forEach((yy, i) => {
  legend.append("text").attr("x", 627).attr("y", yy).attr("letter-spacing", -0.5).text(legendLabels[i]);
});
</script>
</body>
</html>
